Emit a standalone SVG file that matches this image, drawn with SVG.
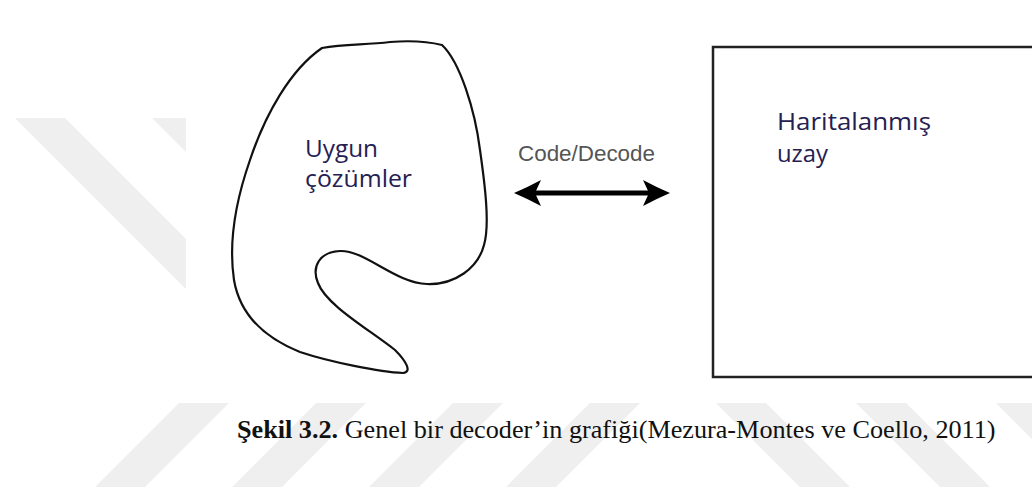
<svg xmlns="http://www.w3.org/2000/svg" width="1032" height="492" viewBox="0 0 1032 492">
<style>
.wm{fill:#efefef}
.lbl{font-family:"Open Sans","Noto Sans",sans-serif;font-size:24px;fill:#262052}
.edge{fill:none;stroke:#111;stroke-width:2.2}
.cap{font-family:"Liberation Serif","Times New Roman",serif;font-size:26.2px;fill:#111}
</style>
<defs>
<clipPath id="cu"><rect x="0" y="118" width="186" height="285"/></clipPath>
<clipPath id="cl"><rect x="0" y="403" width="1032" height="84"/></clipPath>
</defs>
<rect width="1032" height="492" fill="#fff"/>
<g id="watermark">
<g clip-path="url(#cu)">
<polygon class="wm" points="15,118 65,118 330,383 280,383"/>
<polygon class="wm" points="152,118 202,118 467,383 417,383"/>
</g>
<g clip-path="url(#cl)">
<polygon class="wm" points="95,487 145,487 229,403 179,403"/>
<polygon class="wm" points="232,487 282,487 366,403 316,403"/>
<polygon class="wm" points="369,487 419,487 503,403 453,403"/>
<polygon class="wm" points="506,487 556,487 640,403 590,403"/>
<polygon class="wm" points="716,403 766,403 850,487 800,487"/>
<polygon class="wm" points="856,403 906,403 990,487 940,487"/>
<polygon class="wm" points="996,403 1046,403 1130,487 1080,487"/>
</g>
</g>
<g id="node-uygun">
<path class="edge" d="M322,48 C345,44 365,45 390,42 C415,40 430,42 442,45 C460,62 475,110 480,150 C485,185 490,225 484,245 C478,268 455,285 427,284 C395,283 365,250 340,251 C320,252 311,266 318,283 C326,305 370,330 395,350 C405,360 413,372 403,373 C380,372 330,362 300,352 C265,338 240,315 234,280 C228,240 236,200 250,160 C265,115 290,70 322,48 Z"/>
<text class="lbl" x="305" y="157" textLength="73" lengthAdjust="spacingAndGlyphs">Uygun</text>
<text class="lbl" x="305" y="187" textLength="107" lengthAdjust="spacingAndGlyphs">çözümler</text>
</g>
<g id="node-harita">
<rect x="713" y="47" width="340" height="330" fill="none" stroke="#222" stroke-width="2.5"/>
<text class="lbl" x="777" y="130" textLength="154" lengthAdjust="spacingAndGlyphs">Haritalanmış</text>
<text class="lbl" x="777" y="162" textLength="51" lengthAdjust="spacingAndGlyphs">uzay</text>
</g>
<g id="connectors">
<line x1="530" y1="193" x2="655" y2="193" stroke="#000" stroke-width="5"/>
<path d="M514,193 Q528,187 541,180 L535,193 L541,206 Q528,199 514,193 Z" fill="#000"/>
<path d="M670,193 Q656,187 643,180 L649,193 L643,206 Q656,199 670,193 Z" fill="#000"/>
<text x="518" y="161" font-family="Liberation Sans,Arial,sans-serif" font-size="22" fill="#555" textLength="137" lengthAdjust="spacingAndGlyphs">Code/Decode</text>
</g>
<g id="caption">
<text class="cap" x="237" y="438"><tspan font-weight="bold">Şekil 3.2.</tspan> Genel bir decoder’in grafiği(Mezura-Montes ve Coello, 2011)</text>
</g>
</svg>
